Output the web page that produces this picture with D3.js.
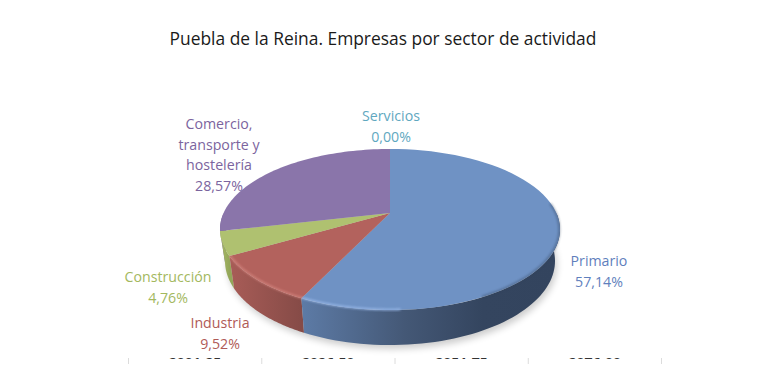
<!DOCTYPE html>
<html><head><meta charset="utf-8">
<script src="https://cdn.jsdelivr.net/npm/d3@7"></script>
<style>html,body{margin:0;background:#fff}svg{display:block}text{font-family:"Open Sans","Noto Sans",sans-serif}</style>
</head><body><svg id="c" width="765" height="382"></svg>
<script>
const chartTitle = "Puebla de la Reina. Empresas por sector de actividad";
const sectors = ["Primario","Industria","Construcción","Comercio, transporte y hostelería","Servicios"];
const shares = [57.14, 9.52, 4.76, 28.57, 0.00];
const labelLines = [["Primario","57,14%"],["Industria","9,52%"],["Construcción","4,76%"],["Comercio,","transporte y","hostelería","28,57%"],["Servicios","0,00%"]];
const topColors = ["#6f92c4","#b3625d","#afc170","#8a75aa","#5ea9c0"];
const labelColors = ["#5f7fbd","#b05a56","#a3b85e","#7b649e","#5fa8bf"];
const sideStops = [[["0","#5d7ba6"],["0.4","#445876"],["0.7","#34455f"],["1","#33445e"]],[["0","#a85c57"],["1","#864b47"]],[["0","#a8ba66"],["1","#93a659"]],[["0","#7a6698"],["1","#7a6698"]],[["0","#5ea9c0"],["1","#5ea9c0"]]];
const axisLabels = ["2001-25","2026-50","2051-75","2076-00"];

const svg = d3.select("#c"), defs = svg.append("defs");
const cx=390, apexY=213, a=-33.5, c=0.205, d=166.4;
const proj=(ang,r=1)=>{const u=r*Math.sin(ang),v=r*Math.cos(ang),w=1+c*v;return [cx+d*u/w,(a*v+apexY)/w];};
// lower rim of the wall: the face outline seen further away from the eye
const drop=p=>[cx+(p[0]-cx)*165/170, 261+(p[1]-229.5)*84/80.5];
const arcs=d3.pie().sort(null).value(v=>v)(shares);
const line=d3.line();
const samples=(s,e,r=1)=>d3.range(0,61).map(i=>proj(s+(e-s)*i/60,r));

const blur=(id,sd)=>defs.append("filter").attr("id",id).attr("x","-20%").attr("y","-20%").attr("width","140%").attr("height","140%").append("feGaussianBlur").attr("stdDeviation",sd);
blur("shadow",3.5);blur("soft",1.1);

// title
svg.append("text").attr("x",383).attr("y",45).attr("text-anchor","middle").attr("font-size",17.4).attr("fill","#1a1a1a").text(chartTitle);

// drop shadow
const full=samples(0,2*Math.PI);
svg.append("path").attr("d",line(full.map(drop).map(p=>[p[0]+2,p[1]+4]))+"Z").attr("fill","#000").attr("opacity",.2).attr("filter","url(#shadow)");

// side walls, back to front
[3,2,1,0].forEach(i=>{
  const s=arcs[i]; if(s.endAngle-s.startAngle<1e-4) return;
  const st=Math.max(s.startAngle,Math.PI/2), en=Math.min(s.endAngle,Math.PI*1.5);
  if(en<=st) return;
  const upper=samples(st,en), lower=upper.slice().reverse().map(drop);
  const xs=upper.map(p=>p[0]);
  const gid="side"+i;
  const g=defs.append("linearGradient").attr("id",gid).attr("gradientUnits","userSpaceOnUse")
    .attr("x1",d3.min(xs)).attr("x2",d3.max(xs)).attr("y1",0).attr("y2",0);
  sideStops[i].forEach(t=>g.append("stop").attr("offset",t[0]).attr("stop-color",t[1]));
  svg.append("path").attr("d",line(upper.concat(lower))+"Z").attr("fill",`url(#${gid})`);
});

// top face slices
arcs.forEach((s,i)=>{
  if(s.endAngle-s.startAngle<1e-4) return;
  const pts=[proj(0,0)].concat(samples(s.startAngle,s.endAngle));
  svg.append("path").attr("d",line(pts)+"Z").attr("fill",topColors[i]);
});

// rim bevel
const rim=(s,e,col,w,op)=>svg.append("path").attr("d",line(samples(s,e,.996))).attr("fill","none").attr("stroke",col).attr("stroke-width",w).attr("opacity",op).attr("filter","url(#soft)");
rim(arcs[0].endAngle-0.5,arcs[0].endAngle,"#9dbcec",1.8,.9);
rim(arcs[1].startAngle,arcs[1].endAngle,"#d98a84",1.8,.8);
rim(Math.PI*0.46,Math.PI*0.85,"#2f3f58",2.2,.4);

// labels
const labelPos=[[599,266],[220,328],[168,282],[219,129],[391,121]];
labelLines.forEach((ls,i)=>{
  const t=svg.append("text").attr("text-anchor","middle").attr("font-size",14.2).attr("fill",labelColors[i]);
  ls.forEach((l,j)=>t.append("tspan").attr("x",labelPos[i][0]).attr("y",labelPos[i][1]+j*20.5).text(l));
});

// remnants of the table below, cut off by the picture crop
const band=d3.scaleBand().domain(axisLabels).range([128.5,661.5]);
defs.append("clipPath").attr("id","cut").append("rect").attr("x",0).attr("y",357).attr("width",765).attr("height",2);
svg.append("g").attr("clip-path","url(#cut)").selectAll("text").data(axisLabels).join("text")
  .attr("x",v=>band(v)+band.bandwidth()/2).attr("y",367.5).attr("text-anchor","middle").attr("font-size",14).attr("font-weight",700).attr("fill","#333").text(v=>v);
svg.append("g").selectAll("line").data([...axisLabels.map(v=>band(v)),661.5]).join("line")
  .attr("x1",v=>v).attr("x2",v=>v).attr("y1",358).attr("y2",364).attr("stroke","#dcdcdc");
</script></body></html>
